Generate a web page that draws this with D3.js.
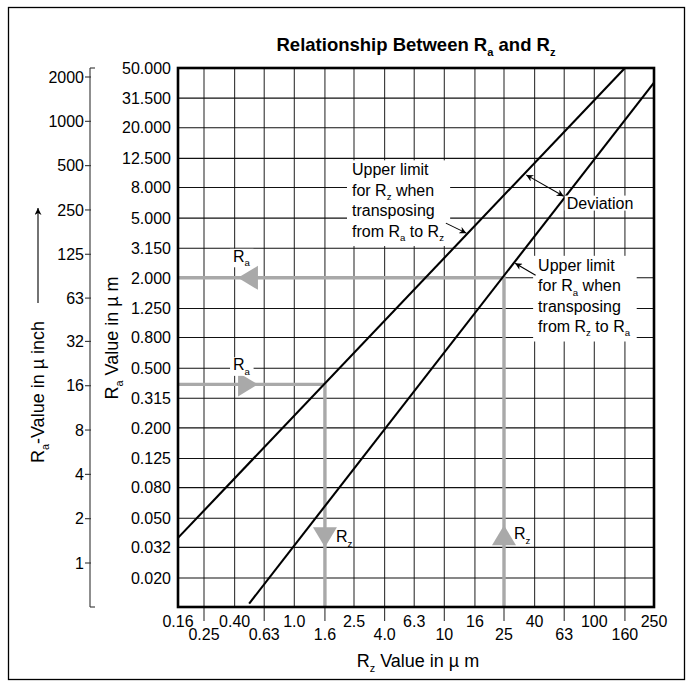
<!DOCTYPE html>
<html><head><meta charset="utf-8">
<script src="https://cdn.jsdelivr.net/npm/d3@7"></script>
<style>
body{margin:0;background:#fff}
svg{display:block}
text{font-family:"Liberation Sans",Arial,Helvetica,sans-serif;fill:#000}
</style>
</head><body>
<svg id="chart" width="691" height="682"></svg>
<script>
// ---------------- data ----------------
const rzTicks = [0.16,0.25,0.40,0.63,1.0,1.6,2.5,4.0,6.3,10,16,25,40,63,100,160,250];
const rzTickLabels = ["0.16","0.25","0.40","0.63","1.0","1.6","2.5","4.0","6.3","10","16","25","40","63","100","160","250"];
const raTicks = [50,31.5,20,12.5,8,5,3.15,2,1.25,0.8,0.5,0.315,0.2,0.125,0.08,0.05,0.032,0.02];
const raTickLabels = ["50.000","31.500","20.000","12.500","8.000","5.000","3.150","2.000","1.250","0.800","0.500","0.315","0.200","0.125","0.080","0.050","0.032","0.020"];
const uinchTicks = [2000,1000,500,250,125,63,32,16,8,4,2,1];
const uinchTickLabels = ["2000","1000","500","250","125","63","32","16","8","4","2","1"];
const rzDomain = [0.16, 0.25, 250];      // first column is drawn narrower
const raDomain = [0.0125, 0.02, 50];     // last row is drawn narrower
const uinchDomain = [1, 2000];
// limit lines, points as [Rz, Ra] in µm
const limitRzFromRa = [[0.16, 0.037], [160, 50]];
const limitRaFromRz = [[0.5, 0.0132], [250, 40]];
// worked examples
const exampleRaToRz = {ra: 0.39, rz: 1.6, headRz: 0.573, headRa: 0.032};
const exampleRzToRa = {rz: 25, ra: 2.0, headRz: 0.421, headRa: 0.0449};
// annotation texts
const noteRz = ["Upper limit", "for R_z when", "transposing", "from R_a to R_z"];
const noteRa = ["Upper limit", "for R_a when", "transposing", "from R_z to R_a"];
const noteDev = "Deviation";
const titleText = "Relationship Between R_a and R_z";

// ---------------- layout ----------------
const svg = d3.select("#chart");
const L = 178, R = 654, T = 68, B = 607;
const x = d3.scaleLog().domain(rzDomain).range([L, 204, R]);
const y = d3.scaleLog().domain(raDomain).range([B, 578, T]);
const yu = d3.scaleLog().domain(uinchDomain).range([563, 77]);
const GRAY = "#a9a9a9";
const FONT = 16;

function rich(sel, s, fs) {
  const parts = s.split(/(_[a-z])/).filter(p => p.length);
  let pend = 0;
  const sub = fs * 0.6, shift = fs * 0.28;
  parts.forEach(p => {
    if (p[0] === "_") {
      sel.append("tspan").attr("font-size", sub).attr("dy", shift).text(p[1]);
      pend = -shift;
    } else {
      const t = sel.append("tspan").text(p);
      if (pend) { t.attr("dy", pend); pend = 0; }
    }
  });
  return sel;
}

// outer frame
svg.append("rect").attr("x", 8.5).attr("y", 7.5).attr("width", 676).attr("height", 672)
  .attr("fill", "none").attr("stroke", "#000").attr("stroke-width", 1.3);

// title
rich(svg.append("text").attr("x", 416).attr("y", 51).attr("text-anchor", "middle")
  .attr("font-weight", "bold").attr("font-size", 18.5), titleText, 18.5);

// grid
const grid = svg.append("g");
grid.selectAll("line.v").data(rzTicks.slice(1, -1)).join("line")
  .attr("x1", d => x(d)).attr("x2", d => x(d)).attr("y1", T).attr("y2", B)
  .attr("stroke", "#333").attr("stroke-width", 1.1);
grid.selectAll("line.h").data(raTicks.slice(1)).join("line")
  .attr("x1", L).attr("x2", R).attr("y1", d => y(d)).attr("y2", d => y(d))
  .attr("stroke", "#111").attr("stroke-width", 1.1);

// Ra tick labels
svg.append("g").selectAll("text").data(raTicks).join("text")
  .attr("x", 171).attr("y", d => y(d)).attr("dy", "0.36em").attr("text-anchor", "end")
  .attr("font-size", FONT).text((d, i) => raTickLabels[i]);

// Rz ticks & labels (staggered)
svg.append("g").selectAll("line").data(rzTicks.filter((d, i) => i % 2 === 1)).join("line")
  .attr("x1", d => x(d)).attr("x2", d => x(d)).attr("y1", B).attr("y2", 621)
  .attr("stroke", "#333").attr("stroke-width", 1.1);
svg.append("g").selectAll("text").data(rzTicks).join("text")
  .attr("x", d => x(d)).attr("y", (d, i) => i % 2 === 0 ? 627 : 640)
  .attr("text-anchor", "middle").attr("font-size", FONT).text((d, i) => rzTickLabels[i]);

// µinch axis
const ua = svg.append("g");
ua.append("line").attr("x1", 90).attr("x2", 90).attr("y1", T).attr("y2", B).attr("stroke", "#333").attr("stroke-width", 1.1);
ua.append("line").attr("x1", 90).attr("x2", 95).attr("y1", T).attr("y2", T).attr("stroke", "#333").attr("stroke-width", 1.1);
ua.append("line").attr("x1", 90).attr("x2", 95).attr("y1", B).attr("y2", B).attr("stroke", "#333").attr("stroke-width", 1.1);
ua.selectAll("line.t").data(uinchTicks).join("line")
  .attr("x1", 85).attr("x2", 91).attr("y1", d => yu(d)).attr("y2", d => yu(d)).attr("stroke", "#333").attr("stroke-width", 1.1);
ua.selectAll("text").data(uinchTicks).join("text")
  .attr("x", 84).attr("y", d => yu(d)).attr("dy", "0.36em").attr("text-anchor", "end")
  .attr("font-size", FONT).text((d, i) => uinchTickLabels[i]);

// axis titles
rich(svg.append("text").attr("font-size", 18).attr("text-anchor", "middle")
  .attr("transform", "translate(118,338) rotate(-90)"), "R_a Value in µ m", 18);
rich(svg.append("text").attr("font-size", 18).attr("text-anchor", "middle")
  .attr("transform", "translate(44,392) rotate(-90)"), "R_a-Value in µ inch", 18);
rich(svg.append("text").attr("font-size", 18).attr("text-anchor", "middle")
  .attr("x", 418).attr("y", 667), "R_z Value in µ m", 18);

// defs
const defs = svg.append("defs");
defs.append("marker").attr("id", "ah").attr("viewBox", "0 0 10 10").attr("refX", 10).attr("refY", 5)
  .attr("markerWidth", 9).attr("markerHeight", 7).attr("markerUnits", "userSpaceOnUse").attr("orient", "auto-start-reverse")
  .append("path").attr("d", "M0,0L10,5L0,10L3,5Z").attr("fill", "#000");

// arrow up next to µinch title
svg.append("line").attr("x1", 38).attr("x2", 38).attr("y1", 303).attr("y2", 208)
  .attr("stroke", "#000").attr("stroke-width", 1.1).attr("marker-end", "url(#ah)");

// gray example paths
const gp = svg.append("g").attr("fill", "none").attr("stroke", GRAY).attr("stroke-width", 3.4);
gp.append("path").attr("d", d3.line()([[L, y(exampleRaToRz.ra)], [x(exampleRaToRz.rz), y(exampleRaToRz.ra)], [x(exampleRaToRz.rz), B]]));
gp.append("path").attr("d", d3.line()([[x(exampleRzToRa.rz), B], [x(exampleRzToRa.rz), y(exampleRzToRa.ra)], [L, y(exampleRzToRa.ra)]]));

function tri(tx, ty, dir) { // dir: unit vector of pointing direction
  const len = 20, hw = 12;
  const bx = tx - dir[0] * len, by = ty - dir[1] * len;
  const px = -dir[1], py = dir[0];
  return `M${tx},${ty}L${bx + px * hw},${by + py * hw}L${bx - px * hw},${by - py * hw}Z`;
}
const heads = [
  [x(exampleRzToRa.headRz), y(exampleRzToRa.ra), [-1, 0]],
  [x(exampleRaToRz.headRz), y(exampleRaToRz.ra), [1, 0]],
  [x(exampleRaToRz.rz), y(exampleRaToRz.headRa), [0, 1]],
  [x(exampleRzToRa.rz), y(exampleRzToRa.headRa), [0, -1]]
];
svg.append("g").selectAll("path").data(heads).join("path")
  .attr("d", d => tri(d[0], d[1], d[2])).attr("fill", GRAY);

// example labels
function label(xp, yp, s, bg) {
  const g = svg.append("g");
  const t = rich(g.append("text").attr("x", xp).attr("y", yp).attr("font-size", FONT), s, FONT);
  if (bg) {
    const b = t.node().getBBox();
    g.insert("rect", "text").attr("x", b.x - 3).attr("y", b.y + 1).attr("width", b.width + 6).attr("height", b.height - 2).attr("fill", "#fff");
  }
}
label(x(exampleRzToRa.headRz) - 5, y(exampleRzToRa.ra) - 16, "R_a", true);
label(x(exampleRaToRz.headRz) - 25, y(exampleRaToRz.ra) - 14, "R_a", true);
label(x(exampleRaToRz.rz) + 11, y(exampleRaToRz.headRa) - 5, "R_z", false);
label(x(exampleRzToRa.rz) + 10, y(exampleRzToRa.headRa) + 14, "R_z", false);

// plot border
svg.append("rect").attr("x", L).attr("y", T).attr("width", R - L).attr("height", B - T)
  .attr("fill", "none").attr("stroke", "#000").attr("stroke-width", 2.6);

// limit lines
const px1 = limitRzFromRa.map(d => [x(d[0]), y(d[1])]);
const px2 = limitRaFromRz.map(d => [x(d[0]), y(d[1])]);
const ll = svg.append("g").attr("fill", "none").attr("stroke", "#000").attr("stroke-width", 2.1);
ll.append("path").attr("d", d3.line()(px1));
ll.append("path").attr("d", d3.line()(px2));

function onLine(p, ra) {
  const yy = y(ra);
  const t = (yy - p[0][1]) / (p[1][1] - p[0][1]);
  return [p[0][0] + t * (p[1][0] - p[0][0]), yy];
}

// annotation blocks
function note(lines, xp, yp) {
  const g = svg.append("g");
  lines.forEach((s, i) => {
    rich(g.append("text").attr("x", xp).attr("y", yp + i * 20.4).attr("font-size", FONT), s, FONT);
  });
  const b = g.node().getBBox();
  g.insert("rect", "text").attr("x", b.x - 5).attr("y", b.y - 1).attr("width", b.width + 11).attr("height", b.height + 4).attr("fill", "#fff");
}
note(noteRz, x(2.5) - 2, y(12.5) + 17);
note(noteRa, x(40) + 3.5, y(2.0) - 7);
(function () {
  const g = svg.append("g");
  const t = g.append("text").attr("x", x(63) + 2.5).attr("y", y(5.0) - 9.5).attr("font-size", FONT).text(noteDev);
  const b = t.node().getBBox();
  g.insert("rect", "text").attr("x", b.x - 2).attr("y", b.y + 1).attr("width", b.width + 4).attr("height", b.height - 2).attr("fill", "#fff");
})();

// annotation arrows
const an = svg.append("g").attr("stroke", "#000").attr("stroke-width", 1.1).attr("fill", "none");
const t1 = onLine(px1, 3.97);
an.append("line").attr("x1", t1[0] - 22).attr("y1", t1[1] - 10).attr("x2", t1[0] - 1.5).attr("y2", t1[1]).attr("marker-end", "url(#ah)");
const d1 = onLine(px1, 9.7), d2 = onLine(px2, 7.0);
an.append("line").attr("x1", d1[0] + 3).attr("y1", d1[1]).attr("x2", d2[0] - 2).attr("y2", d2[1])
  .attr("marker-start", "url(#ah)").attr("marker-end", "url(#ah)");
const t2 = onLine(px2, 2.5);
an.append("line").attr("x1", t2[0] + 22).attr("y1", t2[1] + 12).attr("x2", t2[0] + 1.5).attr("y2", t2[1]).attr("marker-end", "url(#ah)");
</script>
</body></html>
